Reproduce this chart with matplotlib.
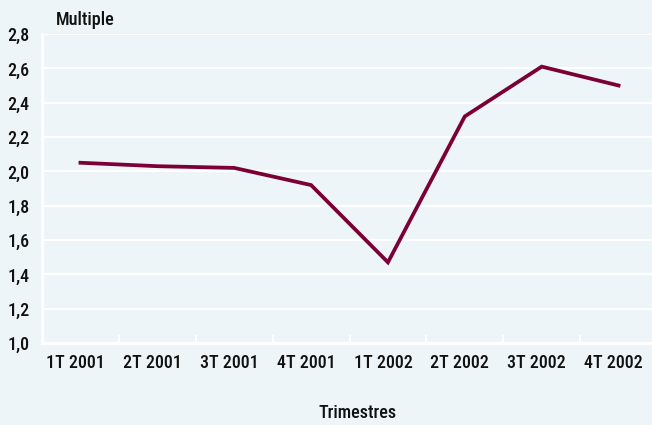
import matplotlib
matplotlib.use("Agg")
import matplotlib.pyplot as plt
import matplotlib.transforms as mtransforms
from matplotlib.ticker import FixedLocator, FuncFormatter
import numpy as np

categories = ["1T 2001", "2T 2001", "3T 2001", "4T 2001", "1T 2002", "2T 2002", "3T 2002", "4T 2002"]
values = [2.05, 2.03, 2.02, 1.92, 1.47, 2.32, 2.61, 2.50]
y_ticks = [1.0, 1.2, 1.4, 1.6, 1.8, 2.0, 2.2, 2.4, 2.6, 2.8]

plt.rcParams['font.family'] = ['Roboto Condensed', 'DejaVu Sans']
plt.rcParams['font.weight'] = 500
FS = 13

bg = '#eef5f8'
fig = plt.figure(figsize=(6.52, 4.25), dpi=100, facecolor=bg)
ax = fig.add_axes([42/652, 1-343/425, (657-42)/652, (343-34)/425])
ax.set_facecolor(bg)

x = np.arange(len(categories))
ax.plot(x, values, color='#7b0035', lw=2.7, solid_joinstyle='miter', zorder=3, clip_on=False)

ax.set_xlim(-0.5, len(categories) - 0.5)
ax.set_ylim(1.0, 2.8)
ax.set_yticks(y_ticks)
ax.yaxis.set_major_formatter(FuncFormatter(lambda v, p: f"{v:.1f}".replace('.', ',')))
ax.grid(axis='y', color='white', lw=1.5, zorder=1)
ax.tick_params(axis='y', length=0, pad=9, labelsize=FS, colors='#111111')

ax.set_xticks(x)
ax.set_xticklabels(categories)
ax.xaxis.set_minor_locator(FixedLocator(np.arange(0.5, len(categories) - 0.5, 1)))
ax.tick_params(axis='x', which='major', length=0, pad=8, labelsize=FS, colors='#111111')
ax.tick_params(axis='x', which='minor', length=6, width=1.5, direction='in', color='white')
shift = mtransforms.ScaledTranslation(-5/100, 0, fig.dpi_scale_trans)
for lbl in ax.get_xticklabels():
    lbl.set_transform(lbl.get_transform() + shift)

for s in ['top', 'right']:
    ax.spines[s].set_visible(False)
for s in ['left', 'bottom']:
    ax.spines[s].set_color('white')
    ax.spines[s].set_linewidth(2)
ax.set_axisbelow(True)

fig.text(56/652, 1-20/425, "Multiple", fontsize=FS, ha='left', va='center', color='#111111')
fig.text(358/652, 1-413/425, "Trimestres", fontsize=FS, ha='center', va='center', color='#111111')

fig.savefig("out.png", dpi=100, facecolor=bg)
